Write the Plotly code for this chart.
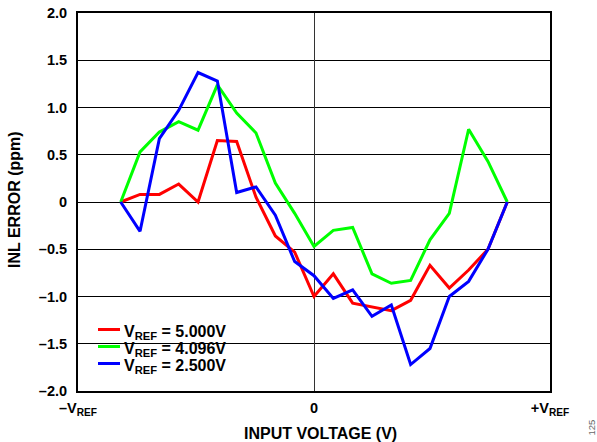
import plotly.graph_objects as go

# input voltage, in code steps relative to mid-scale (0 = 0V)
x_steps = [-10, -9, -8, -7, -6, -5, -4, -3, -2, -1, 0, 1, 2, 3, 4, 5, 6, 7, 8, 9, 10]

inl_5000 = [0.00, 0.08, 0.08, 0.19, 0.00, 0.65, 0.64, 0.05, -0.36, -0.53, -1.00,
            -0.76, -1.07, -1.11, -1.15, -1.04, -0.67, -0.91, -0.72, -0.50, 0.00]
inl_4096 = [0.00, 0.53, 0.74, 0.85, 0.76, 1.24, 0.94, 0.73, 0.20, -0.12, -0.47,
            -0.30, -0.27, -0.76, -0.86, -0.83, -0.40, -0.12, 0.77, 0.43, 0.00]
inl_2500 = [0.00, -0.31, 0.67, 0.97, 1.37, 1.28, 0.10, 0.16, -0.14, -0.63, -0.78,
            -1.02, -0.93, -1.21, -1.09, -1.72, -1.55, -1.00, -0.84, -0.50, 0.00]

series_names = ["V<sub>REF</sub> = 5.000V", "V<sub>REF</sub> = 4.096V", "V<sub>REF</sub> = 2.500V"]
series_colors = ["#FF0000", "#00FF00", "#0000FF"]

x_edge = 12.21
x_tick_vals = [-x_edge, 0, x_edge]
x_tick_text = ["–V<sub>REF</sub>", "0", "+V<sub>REF</sub>"]
y_tick_vals = [2.0, 1.5, 1.0, 0.5, 0, -0.5, -1.0, -1.5, -2.0]
y_tick_text = ["2.0", "1.5", "1.0", "0.5", "0", "–0.5", "–1.0", "–1.5", "–2.0"]

FONT = "Liberation Sans, Arial, sans-serif"
W, H = 597, 442
ML, MR, MT, MB = 78, 47, 13, 51
PW, PH = W - ML - MR, H - MT - MB


def px_x(p):
    return (p - ML) / PW


def px_y(p):
    return (H - MB - p) / PH


fig = go.Figure()
for name, ys, col in zip(series_names, [inl_5000, inl_4096, inl_2500], series_colors):
    fig.add_trace(go.Scatter(x=x_steps, y=ys, mode="lines", name=name,
                             line=dict(color=col, width=3), showlegend=False,
                             hoverinfo="skip"))

fig.update_layout(
    width=W, height=H,
    margin=dict(l=ML, r=MR, t=MT, b=MB, autoexpand=False),
    paper_bgcolor="white", plot_bgcolor="white",
    font=dict(family=FONT, color="black"),
    showlegend=False,
)
fig.update_xaxes(range=[-x_edge, x_edge], tickvals=x_tick_vals, ticktext=x_tick_text,
                 showgrid=False, zeroline=True, zerolinecolor="#333333", zerolinewidth=1,
                 showline=True, linecolor="black", linewidth=2, mirror=True,
                 ticks="", ticklabelstandoff=3, automargin=False,
                 tickfont=dict(family=FONT, size=14.5, weight="bold"))
fig.update_yaxes(range=[-2.0, 2.0], tickvals=y_tick_vals, ticktext=y_tick_text,
                 showgrid=True, gridcolor="black", gridwidth=1,
                 zeroline=True, zerolinecolor="black", zerolinewidth=1,
                 showline=True, linecolor="black", linewidth=2, mirror=True,
                 ticks="", ticklabelstandoff=6, automargin=False,
                 tickfont=dict(family=FONT, size=14.5, weight="bold"))

# axis titles
fig.add_annotation(text="INPUT VOLTAGE (V)", xref="paper", yref="paper",
                   x=px_x(320), y=px_y(433.5), xanchor="center", yanchor="middle",
                   showarrow=False, font=dict(family=FONT, size=16, weight="bold"))
fig.add_annotation(text="INL ERROR (ppm)", xref="paper", yref="paper",
                   x=px_x(15), y=px_y(200), xanchor="center", yanchor="middle",
                   textangle=-90, showarrow=False,
                   font=dict(family=FONT, size=16, weight="bold"))

# legend (white box, line samples and labels)
fig.add_shape(type="rect", xref="paper", yref="paper",
              x0=px_x(90), x1=px_x(238), y0=px_y(320), y1=px_y(373),
              fillcolor="white", line=dict(width=0), layer="between")
row_y = [329.5, 346.5, 363.5]
for name, col, ry in zip(series_names, series_colors, row_y):
    fig.add_shape(type="line", xref="paper", yref="paper",
                  x0=px_x(98), x1=px_x(120), y0=px_y(ry), y1=px_y(ry),
                  line=dict(color=col, width=3), layer="above")
    fig.add_annotation(text=name, xref="paper", yref="paper",
                       x=px_x(122), y=px_y(ry + 2.5), xanchor="left", yanchor="middle",
                       showarrow=False, font=dict(family=FONT, size=16, weight="bold"))

fig.add_annotation(text="125", xref="paper", yref="paper", x=px_x(590.5), y=px_y(428),
                   xanchor="center", yanchor="middle",
                   showarrow=False, textangle=-90,
                   font=dict(family=FONT, size=9.5, color="#666666"))

fig.write_html("out.html", post_script="document.body.style.margin='0';",
               config={"displayModeBar": False, "staticPlot": True})
